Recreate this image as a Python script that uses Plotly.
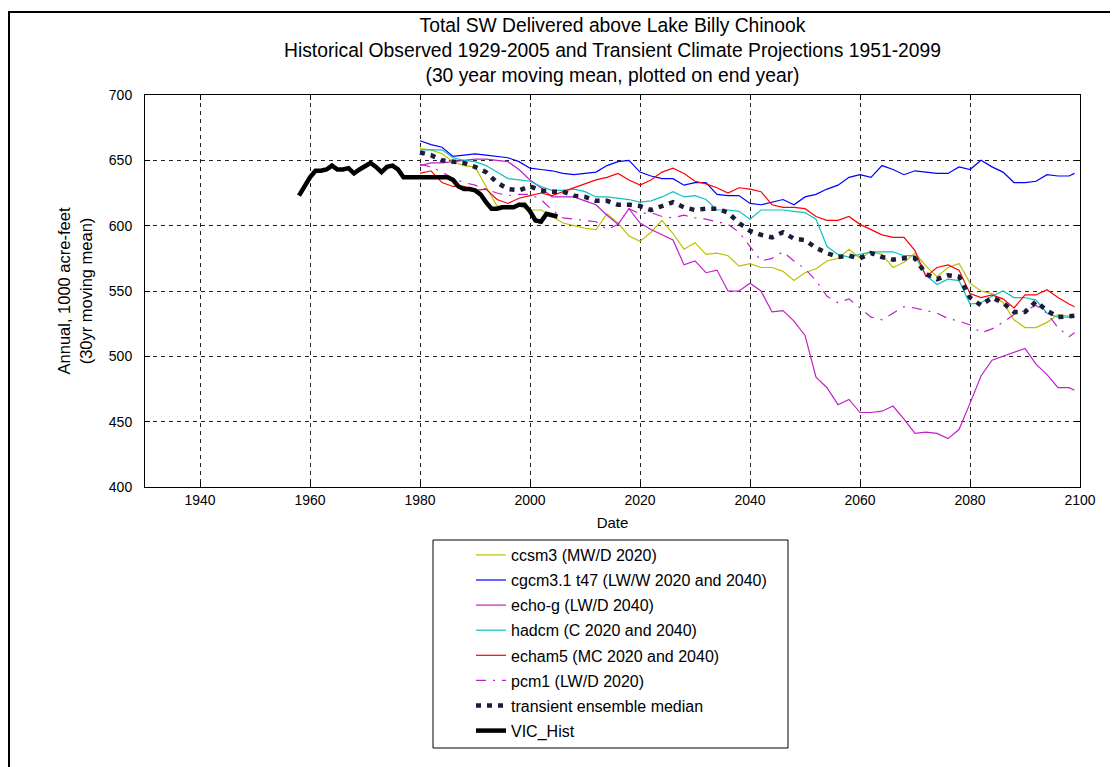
import plotly.graph_objects as go

# projection years (every 2 yrs, plus last year)
yrs = list(range(1980, 2099, 2)) + [2099]

ccsm3 = [659, 658, 655, 649, 646, 645, 630, 615, 615, 615, 612, 612, 607, 602, 600, 598, 597, 609, 602, 592,
         588, 595, 604, 594, 582, 587, 578, 579, 577, 569, 571, 568, 568, 565, 558, 564, 567, 573, 575, 582,
         575, 580, 578, 568, 572, 579, 569, 561, 568, 571, 556, 550, 548, 541, 528, 522, 522, 526, 532, 531, 530]
cgcm31 = [665, 662, 660, 653, 654, 655, 654, 653, 652, 649, 644, 643, 642, 640, 639, 640, 641, 646, 649, 650,
          641, 638, 636, 636, 631, 633, 633, 624, 623, 623, 617, 616, 618, 620, 616, 622, 624, 628, 631, 637,
          639, 637, 646, 643, 639, 642, 641, 640, 640, 645, 643, 650, 645, 641, 633, 633, 634, 639, 638, 638, 640]
echog = [646, 648, 648, 649, 650, 651, 651, 650, 649, 643, 635, 629, 622, 622, 622, 619, 616, 608, 601, 613,
         602, 597, 593, 589, 570, 573, 564, 566, 550, 550, 556, 550, 534, 535, 527, 516, 484, 476, 463, 467,
         457, 457, 458, 462, 452, 441, 442, 441, 437, 444, 464, 485, 497, 500, 503, 506, 494, 486, 476, 476, 474]
hadcm = [658, 658, 658, 652, 650, 649, 646, 641, 636, 635, 634, 630, 627, 627, 628, 626, 622, 622, 621, 620,
         618, 619, 622, 626, 622, 623, 620, 612, 612, 611, 605, 612, 612, 612, 611, 610, 605, 584, 578, 576,
         578, 580, 580, 580, 577, 577, 562, 555, 559, 558, 540, 541, 546, 550, 545, 545, 543, 533, 530, 530, 530]
echam5 = [640, 642, 633, 630, 630, 627, 628, 620, 617, 621, 623, 625, 623, 626, 629, 632, 635, 637, 640, 635,
          631, 635, 641, 644, 640, 634, 632, 629, 625, 629, 628, 626, 616, 614, 614, 613, 607, 604, 604, 607,
          601, 597, 593, 591, 591, 581, 561, 568, 570, 566, 548, 545, 547, 544, 537, 547, 547, 551, 545, 540, 538]
pcm1 = [647, 645, 641, 636, 633, 631, 628, 625, 623, 624, 624, 620, 612, 606, 605, 604, 603, 597, 601, 613,
        609, 610, 607, 606, 608, 606, 605, 603, 601, 595, 584, 573, 575, 580, 573, 567, 558, 546, 541, 544,
        537, 530, 528, 533, 538, 537, 535, 533, 529, 527, 524, 518, 521, 526, 532, 535, 539, 533, 522, 515, 518]
median = [656, 654, 650, 649, 648, 645, 641, 633, 628, 627, 630, 627, 626, 626, 623, 622, 619, 619, 616, 616,
          615, 612, 615, 618, 614, 612, 613, 613, 610, 602, 596, 593, 591, 595, 590, 589, 583, 579, 576, 577,
          575, 579, 576, 574, 575, 575, 563, 559, 562, 561, 545, 539, 545, 541, 534, 534, 542, 535, 530, 531, 531]

hist_yrs = list(range(1958, 2006))
vic_hist = [623, 630, 637, 642, 642, 643, 646, 643, 643, 644, 640, 643, 646, 648, 645, 641, 645, 646, 643, 637,
            637, 637, 637, 637, 637, 637, 637, 637, 635, 630, 628, 628, 627, 624, 618, 613, 613, 614, 614, 614,
            616, 616, 611, 604, 603, 609, 608, 607]

series = [
    ("ccsm3 (MW/D 2020)", ccsm3, "#c0c000", "solid", 1.2),
    ("cgcm3.1 t47 (LW/W 2020 and 2040)", cgcm31, "#0000ff", "solid", 1.2),
    ("echo-g (LW/D 2040)", echog, "#c020c8", "solid", 1.2),
    ("hadcm (C 2020 and 2040)", hadcm, "#10c0c0", "solid", 1.2),
    ("echam5 (MC 2020 and 2040)", echam5, "#ff0000", "solid", 1.2),
    ("pcm1 (LW/D 2020)", pcm1, "#c020c8", "10px,7px,2px,7px", 1.2),
    ("transient ensemble median", median, "#1c1c3c", "5px,6px", 4.5),
]

fig = go.Figure()
for i, (name, vals, col, dash, w) in enumerate(series):
    fig.add_trace(go.Scatter(x=yrs, y=vals, mode="lines", name=name, legendgroup="g%d" % i,
                             line=dict(color=col, dash=dash, width=w)))
fig.add_trace(go.Scatter(x=hist_yrs, y=vic_hist, mode="lines", name="VIC_Hist", legendgroup="g9",
                         line=dict(color="black", width=4.5)))

# page has an 8px body margin, so the figure is 8px smaller and everything is placed in figure px
W, H = 1110, 759
L, R, T, B = 137, 1072, 87, 479
px = lambda x: (x - L) / (R - L)
py = lambda y: (B - y) / (B - T)

fnt = "Liberation Sans, Arial, sans-serif"
ax = dict(showline=True, linecolor="black", linewidth=1, mirror="ticks", ticks="inside", ticklen=5,
          tickcolor="black", showgrid=True, gridcolor="#222", gridwidth=1, griddash="4px,4px",
          zeroline=False, tickfont=dict(size=14, color="black"))

fig.update_layout(
    width=W, height=H,
    margin=dict(l=L, r=W - R, t=T, b=H - B),
    paper_bgcolor="white", plot_bgcolor="white",
    font=dict(family=fnt, color="black"),
    title=dict(text="Total SW Delivered above Lake Billy Chinook<br>"
                    "Historical Observed 1929-2005 and Transient Climate Projections 1951-2099<br>"
                    "(30 year moving mean, plotted on end year)",
               x=0.5, xref="paper", xanchor="center", y=1 - 24 / H, yref="container", yanchor="top",
               font=dict(size=19.3, color="black")),
    xaxis=dict(ax, range=[1930, 2100], tickvals=list(range(1940, 2101, 20)),
               title=dict(text="Date", font=dict(size=15), standoff=10)),
    yaxis=dict(ax, range=[400, 700], tickvals=list(range(400, 701, 50)), ticklabelstandoff=9,
               title=dict(text="Annual, 1000 acre-feet<br>(30yr moving mean)", font=dict(size=16.5), standoff=12)),
    legend=dict(x=px(463), y=py(530), xanchor="left", yanchor="top",
                bgcolor="rgba(0,0,0,0)", font=dict(size=16), tracegroupgap=1.3, traceorder="grouped"),
    showlegend=True,
)

# legend box and figure frame
fig.add_shape(type="rect", xref="paper", yref="paper",
              x0=px(425), x1=px(780), y0=py(740), y1=py(532),
              line=dict(color="black", width=1))
fig.add_shape(type="rect", xref="paper", yref="paper",
              x0=px(1), x1=px(1130), y0=py(800), y1=py(4),
              line=dict(color="black", width=2))

fig.write_html("out.html")
